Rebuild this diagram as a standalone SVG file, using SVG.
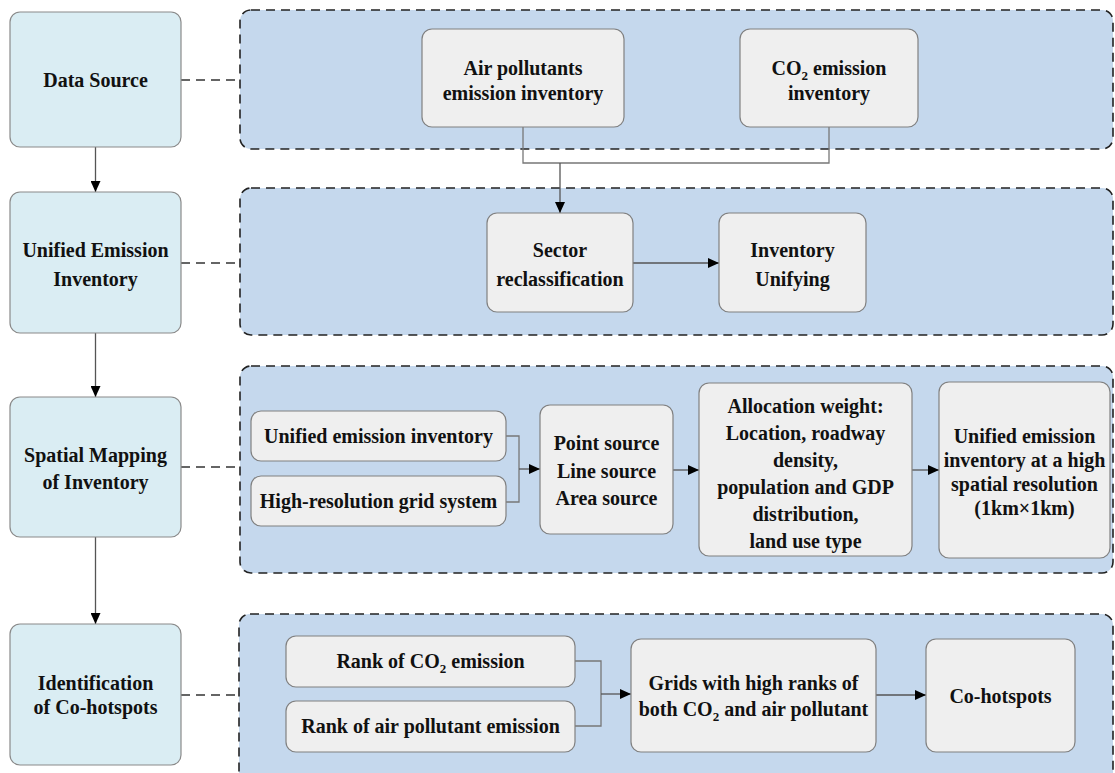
<svg xmlns="http://www.w3.org/2000/svg" width="1115" height="773" viewBox="0 0 1115 773">
<defs>
<marker id="ah" markerUnits="userSpaceOnUse" markerWidth="12" markerHeight="10" refX="11" refY="5" orient="auto">
<path d="M0,0 L11,5 L0,10 Z" fill="#000"/>
</marker>
<style>
.stage{fill:#daedf3;stroke:#8a8a8a;stroke-width:1.2}
.panel{fill:#c5d8ed;stroke:#222;stroke-width:1.6;stroke-dasharray:9 6}
.box{fill:#efefef;stroke:#808080;stroke-width:1.2}
.t{font-weight:bold;font-size:20px;fill:#111;text-anchor:middle}
.link{fill:none;stroke:#777;stroke-width:1.3}
.arr{fill:none;stroke:#555;stroke-width:1.3;marker-end:url(#ah)}
.dash{fill:none;stroke:#333;stroke-width:1.6;stroke-dasharray:9 6}
.s{font-size:13px}
</style>
</defs>
<rect width="1115" height="773" fill="#fff"/>

<g id="panels">
<rect id="panel1" class="panel" x="240" y="10" width="873" height="139" rx="11"/>
<rect id="panel2" class="panel" x="240" y="188" width="873" height="147" rx="11"/>
<rect id="panel3" class="panel" x="240" y="366" width="873" height="207" rx="11"/>
<rect id="panel4" class="panel" x="239" y="614" width="874" height="170" rx="11"/>
</g>

<g id="connectors">
<path class="arr" d="M95.5,147 V192"/>
<path class="arr" d="M95.5,333 V397"/>
<path class="arr" d="M95.5,537 V624"/>
<path class="dash" d="M181,80 H240"/>
<path class="dash" d="M181,263 H240"/>
<path class="dash" d="M181,467 H240"/>
<path class="dash" d="M181,695 H239"/>
<path class="link" d="M523,127 V163 H829 V127"/>
<path class="arr" d="M560,163 V213"/>
<path class="arr" d="M633,263 H719"/>
<path class="link" d="M506,436 H519 V502 H506"/>
<path class="arr" d="M519,469 H540"/>
<path class="arr" d="M673,470 H699"/>
<path class="arr" d="M912,470 H939"/>
<path class="link" d="M575,661 H601 V726 H575"/>
<path class="arr" d="M601,694 H631"/>
<path class="arr" d="M876,695 H926"/>
</g>

<g font-family="Liberation Serif, Tinos, Times, DejaVu Serif, serif">
<g id="stage-data-source">
<rect class="stage" x="10" y="12" width="171" height="135" rx="10"/>
<text class="t" x="95.5" y="87">Data Source</text>
</g>
<g id="stage-unified">
<rect class="stage" x="10" y="192" width="171" height="141" rx="10"/>
<text class="t" x="95.5" y="257">Unified Emission</text>
<text class="t" x="95.5" y="286">Inventory</text>
</g>
<g id="stage-spatial">
<rect class="stage" x="10" y="397" width="171" height="140" rx="10"/>
<text class="t" x="95.5" y="462">Spatial Mapping</text>
<text class="t" x="95.5" y="489">of Inventory</text>
</g>
<g id="stage-identification">
<rect class="stage" x="10" y="624" width="171" height="141" rx="10"/>
<text class="t" x="95.5" y="690">Identification</text>
<text class="t" x="95.5" y="714">of Co-hotspots</text>
</g>

<g id="air-inventory">
<rect class="box" x="422" y="29" width="202" height="98" rx="10"/>
<text class="t" x="523" y="75">Air pollutants</text>
<text class="t" x="523" y="100">emission inventory</text>
</g>
<g id="co2-inventory">
<rect class="box" x="740" y="29" width="178" height="98" rx="10"/>
<text class="t" x="829" y="75">CO<tspan class="s" dy="5">2</tspan><tspan dy="-5"> emission</tspan></text>
<text class="t" x="829" y="100">inventory</text>
</g>

<g id="sector">
<rect class="box" x="487" y="213" width="146" height="99" rx="10"/>
<text class="t" x="560" y="257">Sector</text>
<text class="t" x="560" y="286">reclassification</text>
</g>
<g id="unifying">
<rect class="box" x="719" y="213" width="147" height="99" rx="10"/>
<text class="t" x="792.5" y="257">Inventory</text>
<text class="t" x="792.5" y="286">Unifying</text>
</g>

<g id="uei">
<rect class="box" x="251" y="411" width="255" height="50" rx="10"/>
<text class="t" x="378.5" y="443">Unified emission inventory</text>
</g>
<g id="grid">
<rect class="box" x="251" y="476" width="255" height="50" rx="10"/>
<text class="t" x="378.5" y="508">High-resolution grid system</text>
</g>
<g id="sources">
<rect class="box" x="540" y="405" width="133" height="129" rx="10"/>
<text class="t" x="606.5" y="450">Point source</text>
<text class="t" x="606.5" y="478">Line source</text>
<text class="t" x="606.5" y="505">Area source</text>
</g>
<g id="allocation">
<rect class="box" x="699" y="383" width="213" height="173" rx="10"/>
<text class="t" x="805.5" y="413">Allocation weight:</text>
<text class="t" x="805.5" y="440">Location, roadway</text>
<text class="t" x="805.5" y="467">density,</text>
<text class="t" x="805.5" y="494">population and GDP</text>
<text class="t" x="805.5" y="521">distribution,</text>
<text class="t" x="805.5" y="548">land use type</text>
</g>
<g id="highres">
<rect class="box" x="939" y="382" width="171" height="176" rx="10"/>
<text class="t" x="1024.5" y="443">Unified emission</text>
<text class="t" x="1024.5" y="467">inventory at a high</text>
<text class="t" x="1024.5" y="491">spatial resolution</text>
<text class="t" x="1024.5" y="515">(1km×1km)</text>
</g>

<g id="rank-co2">
<rect class="box" x="286" y="636" width="289" height="51" rx="10"/>
<text class="t" x="430.5" y="668">Rank of CO<tspan class="s" dy="5">2</tspan><tspan dy="-5"> emission</tspan></text>
</g>
<g id="rank-air">
<rect class="box" x="286" y="701" width="289" height="51" rx="10"/>
<text class="t" x="430.5" y="733">Rank of air pollutant emission</text>
</g>
<g id="grids">
<rect class="box" x="631" y="639" width="245" height="113" rx="10"/>
<text class="t" x="753.5" y="690">Grids with high ranks of</text>
<text class="t" x="753.5" y="716">both CO<tspan class="s" dy="5">2</tspan><tspan dy="-5">  and air pollutant</tspan></text>
</g>
<g id="cohotspots">
<rect class="box" x="926" y="639" width="149" height="113" rx="10"/>
<text class="t" x="1000.5" y="703">Co-hotspots</text>
</g>
</g>
</svg>
